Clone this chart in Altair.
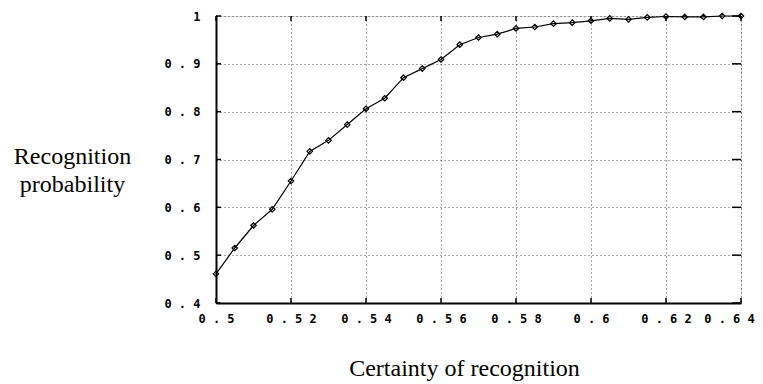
import altair as alt
import pandas as pd

certainty = [0.500, 0.505, 0.510, 0.515, 0.520, 0.525, 0.530, 0.535, 0.540, 0.545,
             0.550, 0.555, 0.560, 0.565, 0.570, 0.575, 0.580, 0.585, 0.590, 0.595,
             0.600, 0.605, 0.610, 0.615, 0.620, 0.625, 0.630, 0.635, 0.640]
probability = [0.461, 0.515, 0.562, 0.596, 0.655, 0.717, 0.740, 0.773, 0.806, 0.828,
               0.871, 0.890, 0.909, 0.940, 0.955, 0.962, 0.974, 0.977, 0.984, 0.986,
               0.990, 0.995, 0.993, 0.997, 0.999, 0.998, 0.998, 1.000, 1.000]
x_ticks = [0.50, 0.52, 0.54, 0.56, 0.58, 0.60, 0.62, 0.64]
y_ticks = [0.4, 0.5, 0.6, 0.7, 0.8, 0.9, 1.0]

W, H = 525, 287

df = pd.DataFrame({"c": certainty, "p": probability})
xt = pd.DataFrame({"v": x_ticks})
yt = pd.DataFrame({"v": y_ticks})

label_expr = "join(split(format(datum.value, '~g'), ''), ' ')"

xscale = alt.Scale(domain=[0.5, 0.64], nice=False, zero=False)
yscale = alt.Scale(domain=[0.4, 1.0], nice=False, zero=False)

x_enc = alt.X("c:Q", scale=xscale, axis=alt.Axis(
    values=x_ticks, labelExpr=label_expr, title="Certainty of recognition",
    titleFont="Liberation Serif", titleFontSize=24, titleFontWeight="normal",
    titleColor="black", titleX=248, titleY=72, titleBaseline="alphabetic",
    titleAnchor="middle", titleAlign="center",
    labelFont="DejaVu Sans Mono", labelFontSize=12, labelFontWeight="bold",
    labelColor="black", labelPadding=10, labelBaseline="top", labelFlush=False,
    labelOverlap=False,
    labelOffset={"condition": {"test": "datum.value > 0.635", "value": -12}, "value": 0},
    tickSize=0, domainColor="black", domainWidth=2,
    grid=True, gridColor="black", gridDash=[1, 3], gridOpacity=0.7, gridWidth=1,
))
y_enc = alt.Y("p:Q", scale=yscale, axis=alt.Axis(
    values=y_ticks, labelExpr=label_expr,
    title=["Recognition", "probability"],
    titleFont="Liberation Serif", titleFontSize=24, titleFontWeight="normal",
    titleColor="black", titleAngle=0, titleX=-144, titleY=147,
    titleBaseline="alphabetic", titleAlign="center", titleLineHeight=28,
    labelFont="DejaVu Sans Mono", labelFontSize=12, labelFontWeight="bold",
    labelColor="black", labelPadding=16, labelFlush=False, labelOverlap=False,
    tickSize=0, domainColor="black", domainWidth=2,
    grid=True, gridColor="black", gridDash=[1, 3], gridOpacity=0.7, gridWidth=1,
))

line = alt.Chart(df).mark_line(color="black", strokeWidth=1.2).encode(x=x_enc, y=y_enc)
pts = alt.Chart(df).mark_point(shape="diamond", filled=False, color="black",
                               size=30, strokeWidth=1.2, opacity=1).encode(
    x=alt.X("c:Q", scale=xscale), y=alt.Y("p:Q", scale=yscale))

top_ticks = alt.Chart(xt).mark_rule(color="black", strokeWidth=1.5).encode(
    x=alt.X("v:Q", scale=xscale), y=alt.value(0), y2=alt.value(5))
bot_ticks = alt.Chart(xt).mark_rule(color="black", strokeWidth=1.5).encode(
    x=alt.X("v:Q", scale=xscale), y=alt.value(H - 5), y2=alt.value(H))
right_ticks = alt.Chart(yt).mark_rule(color="black", strokeWidth=1.5).encode(
    y=alt.Y("v:Q", scale=yscale), x=alt.value(W - 9), x2=alt.value(W))
left_ticks = alt.Chart(yt).mark_rule(color="black", strokeWidth=1.5).encode(
    y=alt.Y("v:Q", scale=yscale), x=alt.value(0), x2=alt.value(5))

chart = alt.layer(line, top_ticks, bot_ticks, right_ticks, left_ticks, pts).properties(
    width=W, height=H,
    autosize=alt.AutoSizeParams(type="none"),
    padding={"left": 208, "top": 8, "right": 14, "bottom": 78},
).configure_view(stroke="black", strokeWidth=2).configure(background="white")

chart.save("out.html", embed_options={"renderer": "svg", "actions": False})
